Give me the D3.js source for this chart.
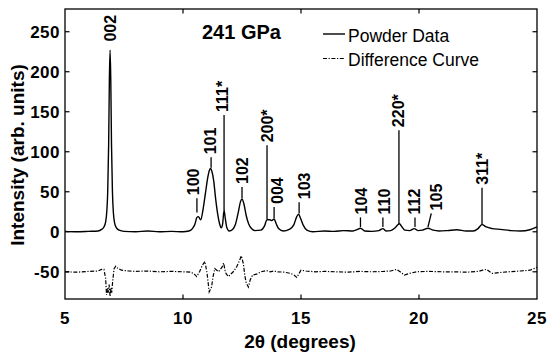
<!DOCTYPE html>
<html>
<head>
<meta charset="utf-8">
<script src="https://cdn.jsdelivr.net/npm/d3@7"></script>
<style>
    body { margin: 0; background: #fff; }
    svg { display: block; font-family: 'Liberation Sans', Arial, sans-serif; }
    .frame { fill: none; stroke: #000; stroke-width: 1.3; }
    .tick-mark { stroke: #000; stroke-width: 1.2; }
    .ticklabel { font-size: 17px; font-weight: bold; letter-spacing: 0.5px; }
    .powder { fill: none; stroke: #000; stroke-width: 1.4; }
    .diff { fill: none; stroke: #000; stroke-width: 1.2; stroke-dasharray: 4 1.6 1.2 1.6; }
    .hkl { font-size: 16px; font-weight: bold; }
    .leader { stroke: #000; stroke-width: 1.3; }
</style>
</head>
<body>
<svg id="chart" width="550" height="358"></svg>
<script>

// x-ray powder pattern, [2theta, intensity]
let powder = [
    [5.0, 0.5], [5.5, 0], [6.0, 0.5], [6.4, 1], [6.55, 3], [6.65, 6], [6.72, 12], [6.77, 25],
    [6.81, 50], [6.85, 110], [6.88, 190], [6.91, 227], [6.94, 190], [6.97, 110], [7.01, 50],
    [7.05, 24], [7.10, 11], [7.18, 5], [7.3, 2], [7.5, 0.5], [8.0, 0], [8.5, 1], [9.0, 0],
    [9.5, 0.5], [10.0, 0], [10.25, 1], [10.4, 4], [10.5, 9], [10.59, 18], [10.65, 19],
    [10.75, 15], [10.85, 28], [10.95, 48], [11.05, 68], [11.12, 77], [11.17, 79], [11.22, 76],
    [11.3, 64], [11.38, 42], [11.47, 22], [11.55, 10], [11.62, 5], [11.68, 10], [11.74, 27],
    [11.79, 17], [11.86, 5], [11.96, 1], [12.1, 3], [12.22, 9], [12.34, 24], [12.44, 38],
    [12.5, 41], [12.58, 35], [12.68, 20], [12.78, 10], [12.9, 4], [13.05, 1.5], [13.3, 2],
    [13.45, 7], [13.56, 15], [13.68, 15], [13.76, 14], [13.86, 16], [13.95, 10], [14.05, 4],
    [14.25, 1], [14.5, 3], [14.7, 9], [14.82, 19], [14.9, 22], [14.98, 17], [15.1, 8],
    [15.25, 2], [15.5, 0], [16.0, 1], [16.4, 0.5], [16.8, 1.5], [17.2, 1], [17.4, 3],
    [17.52, 4.5], [17.7, 1], [18.0, 0.5], [18.3, 1.5], [18.47, 4], [18.6, 1], [18.8, 1.5],
    [18.95, 4], [19.08, 8], [19.17, 10], [19.28, 6], [19.4, 2], [19.6, 1.5], [19.8, 4],
    [19.95, 1.5], [20.15, 2], [20.38, 4.5], [20.6, 2], [20.85, 1], [21.2, 1.5], [21.6, 2.5],
    [22.0, 1], [22.3, 1], [22.5, 4], [22.67, 9], [22.85, 6], [23.1, 4], [23.45, 3],
    [23.9, 1.5], [24.3, 1], [24.7, 2.5], [25.0, 6]
];

// difference curve (observed - fit), offset to -50
let difference = [
    [5.0, -50], [5.5, -50.5], [6.0, -49.5], [6.4, -49], [6.55, -47], [6.65, -47], [6.72, -58],
    [6.76, -79], [6.8, -70], [6.83, -76], [6.87, -66], [6.91, -81], [6.95, -70], [6.98, -76],
    [7.02, -62], [7.08, -46], [7.15, -43], [7.25, -46], [7.4, -48], [7.7, -49], [8.0, -49.5],
    [8.5, -49], [9.0, -50], [9.5, -49.5], [10.0, -50], [10.3, -50.5], [10.45, -52], [10.58, -56],
    [10.7, -50], [10.82, -42], [10.93, -37], [11.02, -52], [11.11, -75], [11.16, -72],
    [11.21, -69], [11.28, -55], [11.35, -46], [11.43, -48], [11.5, -50], [11.58, -47],
    [11.66, -44], [11.72, -39], [11.78, -48], [11.82, -52], [11.92, -56], [12.02, -53],
    [12.13, -50], [12.27, -44], [12.38, -37], [12.47, -30], [12.56, -40], [12.62, -55],
    [12.68, -64], [12.77, -69], [12.85, -60], [12.95, -54], [13.12, -53], [13.3, -50],
    [13.54, -48.5], [13.69, -50], [13.85, -49], [14.0, -50], [14.3, -50.5], [14.55, -52],
    [14.7, -54], [14.82, -57], [14.92, -52], [15.0, -48], [15.2, -49], [15.6, -50], [16.0, -49.5],
    [16.5, -50], [17.0, -50.5], [17.5, -49.5], [18.0, -50], [18.5, -49.5], [18.8, -49],
    [19.05, -47], [19.2, -50], [19.38, -54], [19.6, -52], [19.9, -50], [20.4, -49.5], [21.0, -50],
    [21.5, -50], [22.0, -50.5], [22.5, -49.5], [22.7, -48], [22.86, -47], [23.0, -50],
    [23.1, -52], [23.4, -51], [23.8, -50], [24.3, -49], [24.7, -48], [25.0, -44.5]
];

// reflection labels: name, leader foot (x1,y1), leader top (x2,y2), text position tx
let reflections = [
    { hkl: '002',  x1: 6.91,  y1: 234, x2: 6.91,  y2: 234, tx: 6.9 },
    { hkl: '100',  x1: 10.59, y1: 24,  x2: 10.59, y2: 42,  tx: 10.45 },
    { hkl: '101',  x1: 11.19, y1: 80,  x2: 11.19, y2: 93,  tx: 11.17 },
    { hkl: '111*', x1: 11.74, y1: 27,  x2: 11.74, y2: 146, tx: 11.68 },
    { hkl: '102',  x1: 12.5,  y1: 42,  x2: 12.5,  y2: 56,  tx: 12.5 },
    { hkl: '200*', x1: 13.56, y1: 16,  x2: 13.56, y2: 108, tx: 13.56 },
    { hkl: '004',  x1: 13.86, y1: 17,  x2: 13.86, y2: 31,  tx: 14.0 },
    { hkl: '103',  x1: 14.92, y1: 23,  x2: 14.92, y2: 37,  tx: 15.12 },
    { hkl: '104',  x1: 17.52, y1: 6,   x2: 17.52, y2: 18,  tx: 17.54 },
    { hkl: '110',  x1: 18.47, y1: 6,   x2: 18.47, y2: 18,  tx: 18.54 },
    { hkl: '220*', x1: 19.15, y1: 10,  x2: 19.15, y2: 127, tx: 19.12 },
    { hkl: '112',  x1: 19.83, y1: 6,   x2: 19.83, y2: 18,  tx: 19.8 },
    { hkl: '105',  x1: 20.38, y1: 6,   x2: 20.52, y2: 23,  tx: 20.72 },
    { hkl: '311*', x1: 22.67, y1: 9,   x2: 22.67, y2: 55,  tx: 22.67 }
];

let xTicks = [5, 10, 15, 20, 25];
let yTicks = [-50, 0, 50, 100, 150, 200, 250];

let svg = d3.select('#chart');

// plot box
let x = d3.scaleLinear().domain([5, 25]).range([65, 537]);
let y = d3.scaleLinear().domain([-84, 278.4]).range([299, 9]);

let plot = svg.append('g').attr('class', 'plot');

// inward tick marks on all four sides (skip the corners)
let tickLen = 4.5;
let inner = xTicks.filter(function(d) { return d > 5 && d < 25; });
plot.selectAll('.xb').data(inner).enter().append('line')
    .attr('class', 'tick-mark')
    .attr('x1', x).attr('x2', x)
    .attr('y1', y.range()[0]).attr('y2', y.range()[0] - tickLen);
plot.selectAll('.xt').data(inner).enter().append('line')
    .attr('class', 'tick-mark')
    .attr('x1', x).attr('x2', x)
    .attr('y1', y.range()[1]).attr('y2', y.range()[1] + tickLen);
plot.selectAll('.yl').data(yTicks).enter().append('line')
    .attr('class', 'tick-mark')
    .attr('y1', y).attr('y2', y)
    .attr('x1', x.range()[0]).attr('x2', x.range()[0] + tickLen);
plot.selectAll('.yr').data(yTicks).enter().append('line')
    .attr('class', 'tick-mark')
    .attr('y1', y).attr('y2', y)
    .attr('x1', x.range()[1]).attr('x2', x.range()[1] - tickLen);

// tick labels
plot.selectAll('.xl').data(xTicks).enter().append('text')
    .attr('class', 'ticklabel')
    .attr('x', x).attr('y', 323.5)
    .attr('text-anchor', 'middle')
    .text(function(d) { return d; });
plot.selectAll('.ylab').data(yTicks).enter().append('text')
    .attr('class', 'ticklabel')
    .attr('x', 60).attr('y', function(d) { return y(d) + 6; })
    .attr('text-anchor', 'end')
    .text(function(d) { return d; });

// the curves
let powderLine = d3.line()
    .x(function(d) { return x(d[0]); })
    .y(function(d) { return y(d[1]); })
    .curve(d3.curveMonotoneX);
let diffLine = d3.line()
    .x(function(d) { return x(d[0]); })
    .y(function(d) { return y(d[1]); });

plot.append('path').attr('class', 'diff').attr('d', diffLine(difference));
plot.append('path').attr('class', 'powder').attr('d', powderLine(powder));

// reflection leaders and rotated labels
plot.selectAll('.leader').data(reflections.filter(function(d) { return d.y2 > d.y1; }))
    .enter().append('line')
    .attr('class', 'leader')
    .attr('x1', function(d) { return x(d.x1); })
    .attr('y1', function(d) { return y(d.y1); })
    .attr('x2', function(d) { return x(d.x2); })
    .attr('y2', function(d) { return y(d.y2); });
plot.selectAll('.hkl').data(reflections).enter().append('text')
    .attr('class', 'hkl')
    .attr('transform', function(d) {
        return 'translate(' + x(d.tx) + ',' + (y(d.y2) - 3) + ') rotate(-90)';
    })
    .attr('dy', '0.36em')
    .text(function(d) { return d.hkl; });

// frame drawn last so it sits on top
plot.append('rect').attr('class', 'frame')
    .attr('x', x.range()[0]).attr('y', y.range()[1])
    .attr('width', x.range()[1] - x.range()[0])
    .attr('height', y.range()[0] - y.range()[1]);

// pressure annotation
svg.append('text')
    .attr('x', 202).attr('y', 39)
    .style('font-size', '20px').style('font-weight', 'bold')
    .text('241 GPa');

// legend
let legend = svg.append('g').attr('class', 'legend');
legend.append('line').attr('class', 'powder')
    .attr('x1', 323).attr('x2', 345).attr('y1', 34).attr('y2', 34);
legend.append('text').attr('x', 348).attr('y', 41.5)
    .style('font-size', '17.5px').text('Powder Data');
legend.append('line').attr('class', 'diff')
    .attr('x1', 323).attr('x2', 345).attr('y1', 58.5).attr('y2', 58.5);
legend.append('text').attr('x', 348).attr('y', 65.5)
    .style('font-size', '17.5px').text('Difference Curve');

// axis titles
svg.append('text')
    .attr('transform', 'translate(24,155) rotate(-90)')
    .attr('text-anchor', 'middle')
    .style('font-size', '19px').style('font-weight', 'bold')
    .text('Intensity (arb. units)');
svg.append('text')
    .attr('x', 300).attr('y', 348)
    .attr('text-anchor', 'middle')
    .style('font-size', '19px').style('font-weight', 'bold')
    .text('2θ (degrees)');

</script>
</body>
</html>
